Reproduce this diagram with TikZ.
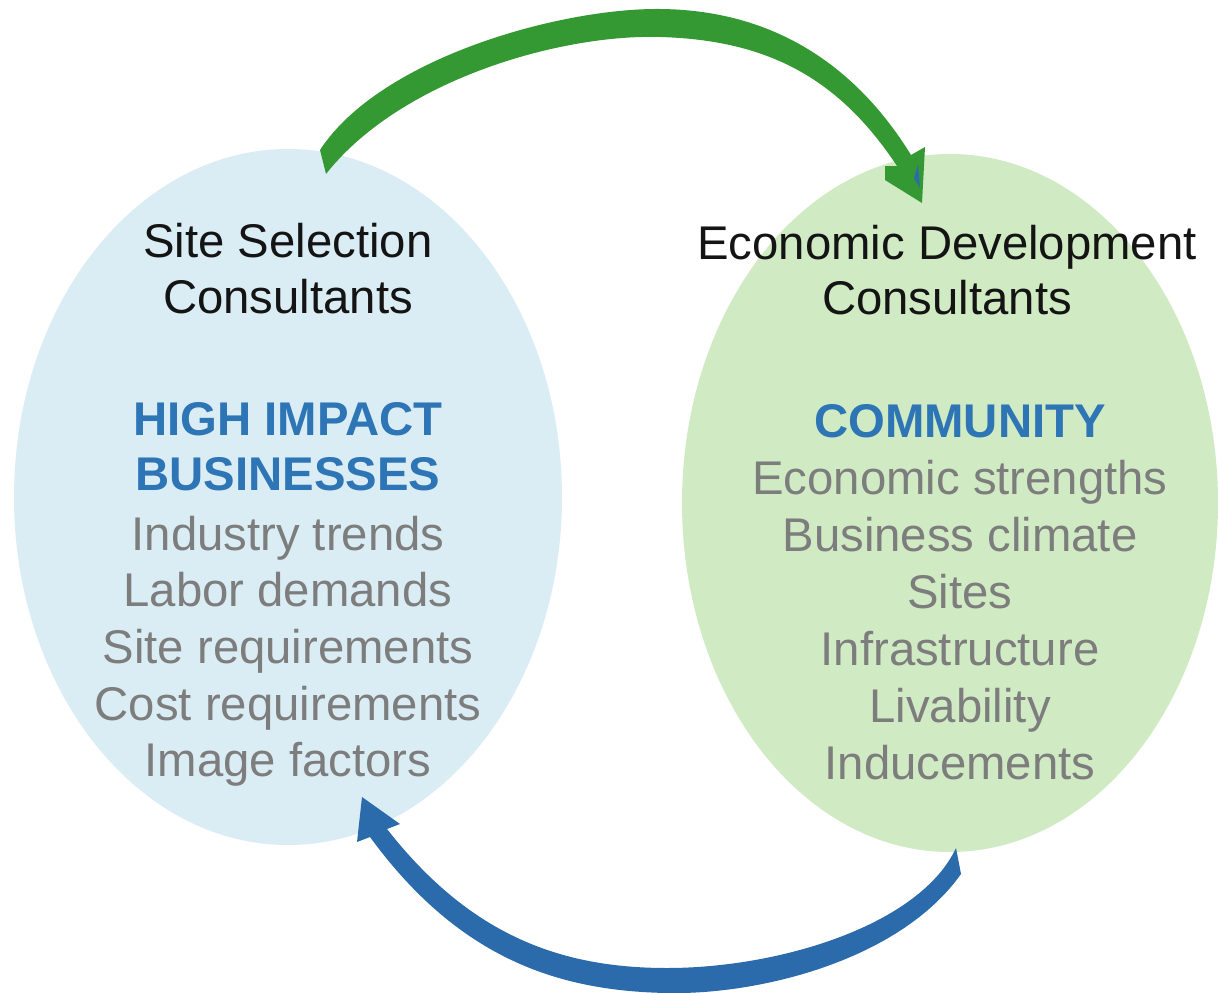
\documentclass[tikz,border=0pt]{standalone}
\usepackage{fontspec}
\setmainfont{Liberation Sans}
\definecolor{leftfill}{RGB}{218,237,244}
\definecolor{rightfill}{RGB}{208,235,195}
\definecolor{headblue}{RGB}{46,117,182}
\definecolor{itemgray}{RGB}{125,125,125}
\definecolor{arrgreen}{RGB}{53,153,51}
\definecolor{arrblue}{RGB}{43,106,171}
\definecolor{titleblack}{RGB}{20,20,20}
\tikzset{
  txt/.style={anchor=base, inner sep=0pt, font=\fontsize{47.3}{56}\selectfont},
  ttl/.style={txt, text=titleblack},
  hd/.style={txt, text=headblue, font=\fontsize{47.3}{56}\selectfont\bfseries},
  itm/.style={txt, text=itemgray},
  bubble/.style={ellipse, draw=none, inner sep=0pt}
}
\begin{document}
\begin{tikzpicture}[x=1pt,y=-1pt]
\useasboundingbox (0,0) rectangle (1218,993);
\fill[white] (0,0) rectangle (1218,993);
% ellipses
\fill[leftfill] (288,497) ellipse [x radius=274, y radius=348];
\fill[rightfill] (950,503) ellipse [x radius=268, y radius=349];
\coordinate (lc) at (288,497);
\coordinate (rc) at (950,503);
% green arrow (left to right, over the top)
\fill[arrgreen] (320,150) .. controls (380,58) and (560,8) .. (660,9)
  .. controls (780,10) and (860,72) .. (911,155)
  -- (925,147) -- (922,203) -- (885,180) -- (885,166) -- (897,166)
  .. controls (840,80) and (770,40) .. (660,37)
  .. controls (560,34) and (400,80) .. (326,174) -- cycle;
\fill[arrblue] (918,164) -- (914,178) -- (920,188) -- cycle;
% blue arrow (right to left, under the bottom)
\fill[arrblue] (961,874) .. controls (900,960) and (760,995) .. (667,993)
  .. controls (560,991) and (460,960) .. (370,837)
  -- (357,842) -- (362,797) -- (400,824) -- (387,829)
  .. controls (470,935) and (560,968) .. (667,968)
  .. controls (780,968) and (920,925) .. (956,848) -- cycle;
% left texts
\node[ttl] (l1) at (288,257) {Site Selection};
\node[ttl] (l2) at (288,313) {Consultants};
\node[hd] (l3) at (288,435) {HIGH IMPACT};
\node[hd] (l4) at (288,490) {BUSINESSES};
\node[itm] (l5) at (288,550) {Industry trends};
\node[itm] (l6) at (288,606) {Labor demands};
\node[itm] (l7) at (288,663) {Site requirements};
\node[itm] (l8) at (288,720) {Cost requirements};
\node[itm] (l9) at (288,776) {Image factors};
% right texts
\node[ttl] (r1) at (947,259) {Economic Development};
\node[ttl] (r2) at (947,314) {Consultants};
\node[hd] (r3) at (960,437) {COMMUNITY};
\node[itm] (r4) at (960,494) {Economic strengths};
\node[itm] (r5) at (960,551) {Business climate};
\node[itm] (r6) at (960,608) {Sites};
\node[itm] (r7) at (960,665) {Infrastructure};
\node[itm] (r8) at (960,722) {Livability};
\node[itm] (r9) at (960,779) {Inducements};
\end{tikzpicture}
\end{document}
